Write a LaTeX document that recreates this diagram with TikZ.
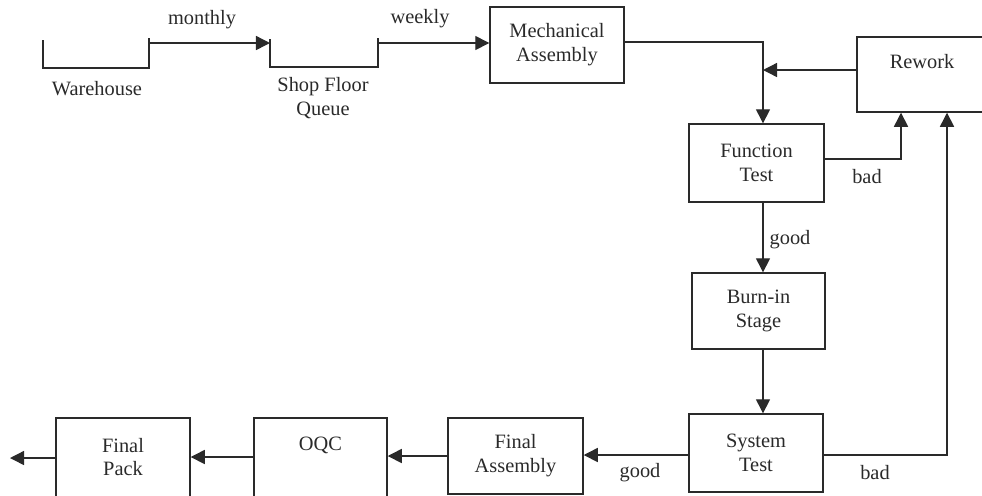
\documentclass[tikz,border=0pt]{standalone}
\usepackage{fontspec}
\setmainfont{Liberation Serif}
\usetikzlibrary{arrows.meta}
\definecolor{ink}{HTML}{2A2A2A}
\tikzset{
  box/.style={draw=ink, line width=0.8pt, minimum width=134*0.02cm, minimum height=76*0.02cm, inner sep=0pt, align=center, text=ink, font=\fontsize{11.6}{13.6}\selectfont},
  lbl/.style={inner sep=0pt, align=center, text=ink, font=\fontsize{11.6}{13.6}\selectfont},
  conn/.style={draw=ink, line width=0.8pt},
  arr/.style={conn, -{Triangle[length=8pt,width=8pt]}},
}
\begin{document}
\begin{tikzpicture}[x=0.02cm,y=-0.02cm]
\useasboundingbox (0,0) rectangle (982,495);
\clip (0,0) rectangle (982,495);
% open queues
\coordinate (whR) at (149,43);
\coordinate (sqL) at (270,43);
\coordinate (sqR) at (378,43);
\draw[conn] (43,40) -- (43,68) -- (149,68) -- (149,38);
\draw[conn] (270,39) -- (270,67) -- (378,67) -- (378,38);
\node[lbl] (wh) at (97,89) {Warehouse};
\node[lbl] (sq) at (323,98) {Shop Floor\\Queue};
% boxes
\node[box] (mech) at (557,45) {Mechanical\\Assembly};
\node[box, minimum height=75*0.02cm] (rw) at (924,74.5) {};
\node[lbl] (rwt) at (922,62) {Rework};
\node[box, minimum width=135*0.02cm, minimum height=78*0.02cm] (ft) at (756.5,163) {Function\\Test};
\node[box, minimum width=133*0.02cm] (bi) at (758.5,311) {Burn-in\\Stage};
\node[box, minimum width=134*0.02cm, minimum height=78*0.02cm] (st) at (756,453) {System\\Test};
\node[box, minimum width=135*0.02cm] (fa) at (515.5,456) {Final\\Assembly};
\node[box, minimum width=133*0.02cm, minimum height=100*0.02cm] (oqc) at (320.5,468) {};
\node[lbl] (oqct) at (320.5,445) {OQC};
\node[box, minimum width=134*0.02cm, minimum height=100*0.02cm] (fp) at (123,468) {};
\node[lbl] (fpt) at (123,457) {Final\\Pack};
% junctions
\coordinate (j1) at (763,42);
\coordinate (j2) at (763,70);
\coordinate (fb) at (901,159);
\coordinate (sb) at (947,455);
\coordinate (out) at (10,458);
% connectors
\draw[arr] (whR) -- (sqL);
\draw[arr] (sqR) -- (sqR -| mech.west);
\draw[arr] (mech.east |- j1) -- (j1) -- (j1 |- ft.north);
\draw[arr] (rw.west |- j2) -- (j2);
\draw[arr] (ft.east |- fb) -- (fb) -- (fb |- rw.south);
\draw[arr] (j1 |- ft.south) -- (j1 |- bi.north);
\draw[arr] (j1 |- bi.south) -- (j1 |- st.north);
\draw[arr] (st.east |- sb) -- (sb) -- (sb |- rw.south);
\draw[arr] (st.west |- sb) -- (sb -| fa.east);
\draw[arr] (fa.west |- 0,456) -- (oqc.east |- 0,456);
\draw[arr] (oqc.west |- 0,457) -- (fp.east |- 0,457);
\draw[arr] (fp.west |- out) -- (out);
% labels
\node[lbl] (lm) at (202,20) {monthly};
\node[lbl] (lw) at (420,19) {weekly};
\node[lbl] (lb1) at (867,177) {bad};
\node[lbl] (lg1) at (790,240) {good};
\node[lbl] (lb2) at (875,473) {bad};
\node[lbl] (lg2) at (640,473) {good};
\end{tikzpicture}
\end{document}
